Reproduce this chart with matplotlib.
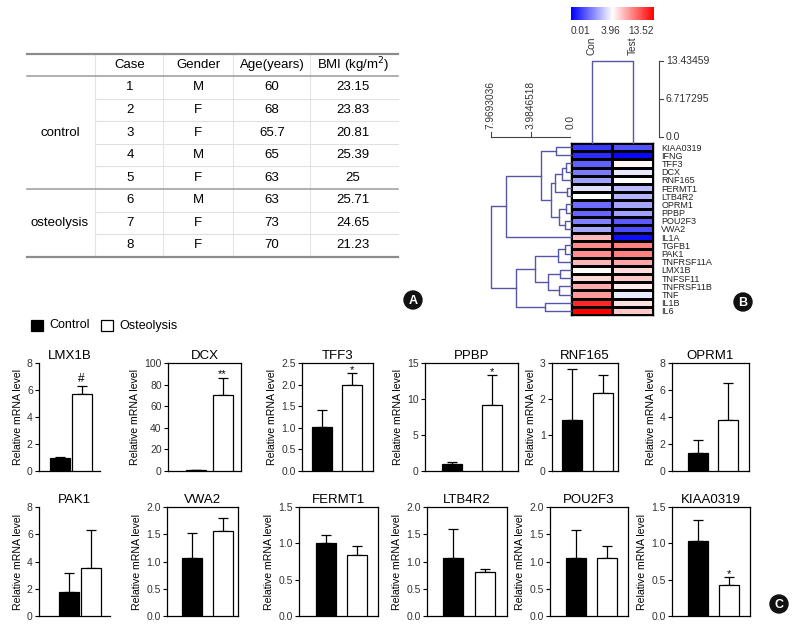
import numpy as np
import matplotlib
matplotlib.use("Agg")
import matplotlib.pyplot as plt
from matplotlib.colors import LinearSegmentedColormap, TwoSlopeNorm
from matplotlib.patches import Rectangle, Circle

plt.rcParams["font.family"] = ["Liberation Sans", "DejaVu Sans"]

# ---------------- data ----------------
# panel A: patient table
HEADERS = ["Case", "Gender", "Age(years)", "BMI (kg/m$^2$)"]
GROUPS = ["control", "osteolysis"]
GROUP_SIZES = [5, 3]
CASES = ["1", "2", "3", "4", "5", "6", "7", "8"]
GENDER = ["M", "F", "F", "M", "F", "M", "F", "F"]
AGE = ["60", "68", "65.7", "65", "63", "63", "73", "70"]
BMI = ["23.15", "23.83", "20.81", "25.39", "25", "25.71", "24.65", "21.23"]

# panel B: heatmap
HEAT_COLS = ["Con", "Test"]
HEAT_GENES = ["KIAA0319", "IFNG", "TFF3", "DCX", "RNF165", "FERMT1", "LTB4R2",
              "OPRM1", "PPBP", "POU2F3", "VWA2", "IL1A", "TGFB1", "PAK1",
              "TNFRSF11A", "LMX1B", "TNFSF11", "TNFRSF11B", "TNF", "IL1B", "IL6"]
CON_VALS = [0.9, 0.7, 1.5, 1.9, 2.5, 3.5, 3.96, 1.7, 1.6, 2.0, 2.6, 6.6, 8.3,
            8.2, 6.6, 3.96, 5.5, 7.1, 7.8, 12.1, 13.5]
TEST_VALS = [1.3, 0.15, 4.3, 3.6, 3.95, 2.9, 2.8, 2.6, 2.5, 1.4, 1.2, 0.25, 8.7,
             8.7, 7.3, 5.3, 6.0, 4.7, 3.65, 5.1, 6.0]
CBAR_MIN, CBAR_MID, CBAR_MAX = 0.01, 3.96, 13.52
# row tree: (left, right, merge height), leaves are row indices
ROW_TREE = ((((0, 1, 1.5),
              ((((2, 3, 0.5), 4, 0.9), (5, 6, 0.4), 1.6),
               ((7, 8, 0.5), (9, 10, 0.6), 1.2), 2.0), 3.0), 11, 6.5),
            ((((12, 13, 0.6), 14, 1.3), ((15, 16, 1.1), (17, 18, 1.2), 2.3), 3.6),
             (19, 20, 2.6), 5.5), 7.9693036)
ROW_SCALE = [7.9693036, 3.9846518, 0.0]
COL_HEIGHT = 13.43459
COL_SCALE = [13.43459, 6.717295, 0.0]

# panel C: qPCR bars
BAR_GENES = ["LMX1B", "DCX", "TFF3", "PPBP", "RNF165", "OPRM1",
             "PAK1", "VWA2", "FERMT1", "LTB4R2", "POU2F3", "KIAA0319"]
CTRL_MEAN = [1.0, 1.0, 1.03, 1.0, 1.42, 1.3, 1.75, 1.06, 1.0, 1.07, 1.07, 1.03]
CTRL_ERR = [0.03, 0.3, 0.39, 0.3, 1.4, 1.0, 1.4, 0.46, 0.12, 0.52, 0.51, 0.29]
OST_MEAN = [5.7, 70.5, 1.99, 9.1, 2.17, 3.8, 3.5, 1.56, 0.84, 0.81, 1.06, 0.42]
OST_ERR = [0.6, 16.0, 0.27, 4.2, 0.51, 2.75, 2.8, 0.23, 0.12, 0.05, 0.22, 0.11]
SIG = ["#", "**", "*", "*", "", "", "", "", "", "", "", "*"]
YMAX = [8, 100, 2.5, 15, 3, 8, 8, 2, 1.5, 2, 2, 1.5]
YSTEP = [2, 20, 0.5, 5, 1, 2, 2, 0.5, 0.5, 0.5, 0.5, 0.5]
LEGEND = ["Control", "Osteolysis"]

# ---------------- layout (pixels) ----------------
W, H = 794, 627
fig = plt.figure(figsize=(W / 100, H / 100), dpi=100)


def px_axes(l, t, r, b):
    return fig.add_axes([l / W, 1 - b / H, (r - l) / W, (b - t) / H])


over = px_axes(0, 0, W, H)
over.set_xlim(0, W)
over.set_ylim(H, 0)
over.axis("off")

# ---------------- panel A: table ----------------
tab_l, tab_r, grp_r = 27, 398, 95
col_lines = [95, 163, 233, 310]
col_cent = [130, 198, 272, 353]
head_y, row0, row_h = 65, 76, 22.6
n_rows = len(CASES)
tfs = 9.5

for x, h in zip(col_cent, HEADERS):
    over.text(x, head_y, h, ha="center", va="center", fontsize=tfs)
for i in range(n_rows):
    yc = row0 + (i + 0.5) * row_h
    for x, v in zip(col_cent, [CASES[i], GENDER[i], AGE[i], BMI[i]]):
        over.text(x, yc, v, ha="center", va="center", fontsize=tfs)
start = 0
for g, n in zip(GROUPS, GROUP_SIZES):
    yc = row0 + (start + n / 2) * row_h
    over.text(60, yc, g, ha="center", va="center", fontsize=tfs)
    start += n

for x in col_lines:
    over.plot([x, x], [54, row0 + n_rows * row_h], color="#e4e4e4", lw=0.8)
for i in range(1, n_rows):
    if i == GROUP_SIZES[0]:
        continue
    y = row0 + i * row_h
    over.plot([grp_r, tab_r], [y, y], color="#e0e0e0", lw=0.8)
for y in [54, row0 + n_rows * row_h]:
    over.plot([tab_l, tab_r], [y, y], color="#8c8c8c", lw=1.6)
for y in [row0, row0 + GROUP_SIZES[0] * row_h]:
    over.plot([tab_l, tab_r], [y, y], color="#9a9a9a", lw=1.1)

# ---------------- panel B: heatmap ----------------
cmap = LinearSegmentedColormap.from_list("bwr2", ["#0000ff", "#ffffff", "#ff0000"])
norm = TwoSlopeNorm(vmin=CBAR_MIN, vcenter=CBAR_MID, vmax=CBAR_MAX)
dcol = "#5656a6"
n_genes = len(HEAT_GENES)

axh = px_axes(571, 143, 653, 315)
vals = np.column_stack([CON_VALS, TEST_VALS])
axh.pcolormesh(np.arange(3), np.arange(n_genes + 1), vals, cmap=cmap, norm=norm,
               edgecolors="black", linewidth=0.9)
axh.set_xlim(0, 2)
axh.set_ylim(n_genes, 0)
axh.set_xticks([])
axh.set_yticks(np.arange(n_genes) + 0.5)
axh.set_yticklabels(HEAT_GENES, fontsize=6.5, color="#222222")
axh.yaxis.tick_right()
axh.tick_params(axis="y", length=0, pad=6)
for s in axh.spines.values():
    s.set_linewidth(1.0)

# row dendrogram
axd = px_axes(470, 143, 571, 315)
axd.set_xlim(10.06, 0)
axd.set_ylim(n_genes, 0)
axd.axis("off")


def draw_tree(ax, node):
    if isinstance(node, int):
        return node + 0.5, 0.0
    a, b, h = node
    ya, ha = draw_tree(ax, a)
    yb, hb = draw_tree(ax, b)
    ax.plot([ha, h, h, hb], [ya, ya, yb, yb], color=dcol, lw=1.0, clip_on=False)
    return (ya + yb) / 2, h


draw_tree(axd, ROW_TREE)

# row dendrogram scale
axs = px_axes(470, 60, 571, 140)
axs.set_xlim(10.06, 0)
axs.set_ylim(0, 80)
axs.axis("off")
axs.plot([ROW_SCALE[0], ROW_SCALE[-1]], [3, 3], color="#444444", lw=0.8)
for v in ROW_SCALE:
    axs.plot([v, v], [3, 8], color="#444444", lw=0.8)
    axs.text(v, 11, str(v), rotation=90, ha="center", va="bottom", fontsize=7.3,
             color="#333333")

# column dendrogram
axc = px_axes(571, 61, 653, 143)
axc.set_xlim(0, 2)
axc.set_ylim(-1.06, COL_HEIGHT)
axc.axis("off")
axc.plot([0.5, 0.5, 1.5, 1.5], [-1.06, COL_HEIGHT, COL_HEIGHT, -1.06],
         color=dcol, lw=1.0, clip_on=False)
for i, c in enumerate(HEAT_COLS):
    axc.text(i + 0.5, COL_HEIGHT + 1.0, c, rotation=90, ha="center", va="bottom",
             fontsize=7.3, color="#333333")

axcs = px_axes(655, 61, 720, 137)
axcs.set_xlim(0, 65)
axcs.set_ylim(0, COL_HEIGHT)
axcs.axis("off")
axcs.plot([4, 4], [0, COL_HEIGHT], color="#444444", lw=0.8, clip_on=False)
for v in COL_SCALE:
    axcs.plot([4, 8], [v, v], color="#444444", lw=0.8, clip_on=False)
    axcs.text(11, v, str(v), ha="left", va="center", fontsize=7.5, color="#333333")

# colour bar
axb = px_axes(571, 7, 654, 20)
axb.imshow(np.linspace(0, 1, 256)[None, :], cmap=cmap, aspect="auto",
           extent=[0, 1, 0, 1])
axb.set_xticks([])
axb.set_yticks([])
for s in axb.spines.values():
    s.set_visible(False)
mid_frac = 0.47
for x, t, ha in [(0, CBAR_MIN, "left"), (mid_frac, CBAR_MID, "center"),
                 (1, CBAR_MAX, "right")]:
    axb.text(x, -0.45, f"{t:.2f}", transform=axb.transAxes, ha=ha, va="top",
             fontsize=7.3, color="#333333")

# ---------------- panel C: bar charts ----------------
ax_left = [39, 168, 302, 425, 552, 672, 39, 167, 299, 427, 550, 672]
ax_right = [100, 241, 373, 518, 618, 749, 110, 238, 378, 507, 628, 750]
bar_off = [20.5, 28, 20, 27, 20, 25.5, 30, 25, 26.5, 26.5, 26, 26]
bar_gap = [22, 26.5, 30, 40, 31, 30.5, 22, 30.5, 31.5, 31.5, 31, 31]
row_tb = [(363, 471), (507, 616)]
bar_px = 20

for k, gene in enumerate(BAR_GENES):
    t, b = row_tb[k // 6]
    l, r = ax_left[k], ax_right[k]
    ax = px_axes(l, t, r, b)
    gap = bar_gap[k]
    x0 = -bar_off[k] / gap
    ax.set_xlim(x0, x0 + (r - l) / gap)
    ax.set_ylim(0, YMAX[k])
    wdt = bar_px / gap
    means = [CTRL_MEAN[k], OST_MEAN[k]]
    errs = [CTRL_ERR[k], OST_ERR[k]]
    ax.bar([0, 1], means, width=wdt, color=["black", "white"],
           edgecolor="black", linewidth=0.9, zorder=3)
    ax.errorbar([0, 1], means, yerr=[[0, 0], errs], fmt="none", ecolor="black",
                elinewidth=0.9, capsize=3.5, capthick=0.9, zorder=2)
    if SIG[k]:
        is_hash = SIG[k] == "#"
        ax.annotate(SIG[k], (1, means[1] + errs[1]),
                    xytext=(0, 2.5 if is_hash else 0.3),
                    textcoords="offset points", ha="center", va="baseline",
                    fontsize=8.5 if is_hash else 8, zorder=5)
    ticks = np.arange(0, YMAX[k] + YSTEP[k] / 2, YSTEP[k])
    ax.set_yticks(ticks)
    if YSTEP[k] < 1:
        ax.set_yticklabels([f"{v:.1f}" for v in ticks])
    else:
        ax.set_yticklabels([f"{v:.0f}" for v in ticks])
    ax.set_xticks([])
    ax.tick_params(axis="y", direction="out", length=3, width=0.8,
                   labelsize=7.5, pad=1.5, labelcolor="#333333")
    ax.set_ylabel("Relative mRNA level", fontsize=7.6, labelpad=3)
    ax.set_title(gene, fontsize=9.5, pad=3)
    for s in ax.spines.values():
        s.set_linewidth(0.9)
    if k in (0, 6):
        ax.spines["top"].set_visible(False)
        ax.spines["right"].set_visible(False)

# legend
for (x, fc, lab) in [(31, "black", LEGEND[0]), (101, "white", LEGEND[1])]:
    over.add_patch(Rectangle((x, 320), 12, 11, facecolor=fc, edgecolor="black",
                             lw=0.9))
    over.text(x + 18, 325.5, lab, ha="left", va="center", fontsize=9)

# panel labels
for (x, y, lab) in [(413, 300, "A"), (743, 302, "B"), (779, 604, "C")]:
    over.add_patch(Circle((x, y), 9, color="#111111"))
    over.text(x, y + 0.5, lab, ha="center", va="center", color="white",
              fontsize=9, fontweight="bold")

fig.savefig("out.png", dpi=100)
